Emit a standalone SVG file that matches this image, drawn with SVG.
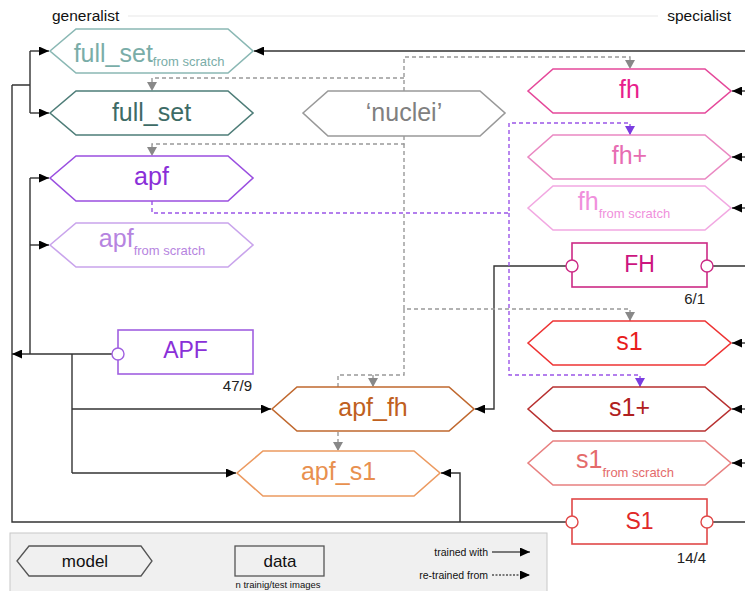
<svg xmlns="http://www.w3.org/2000/svg" width="745" height="591" viewBox="0 0 745 591">
  <defs>
    <marker id="arr" markerUnits="userSpaceOnUse" markerWidth="11" markerHeight="9" refX="10" refY="4.5" orient="auto">
      <path d="M0,0 L10,4.5 L0,9 z" fill="#000" stroke="none"/>
    </marker>
    <marker id="arrGray" markerUnits="userSpaceOnUse" markerWidth="11" markerHeight="11" refX="9" refY="5" orient="auto">
      <path d="M0,0 L9,5 L0,10 z" fill="#888" stroke="none"/>
    </marker>
    <marker id="arrPurple" markerUnits="userSpaceOnUse" markerWidth="11" markerHeight="11" refX="9" refY="5" orient="auto">
      <path d="M0,0 L9,5 L0,10 z" fill="#7a3de0" stroke="none"/>
    </marker>
  </defs>
  <style>
    text { font-family: "Liberation Sans", Arial, sans-serif; }
    .solid { fill: none; stroke: #333; stroke-width: 1.4; }
    .arrow { marker-end: url(#arr); }
    .dgray { fill: none; stroke: #999; stroke-width: 1.4; stroke-dasharray: 4 3; }
    .dpurple { fill: none; stroke: #9b55e8; stroke-width: 1.4; stroke-dasharray: 4 3; }
    .hex { fill: #fff; stroke-width: 1.6; }
    .box { fill: #fff; stroke-width: 1.6; }
    .port { fill: #fff; stroke-width: 1.4; }
    .lbl { font-size: 25px; text-anchor: middle; }
    .rlbl { font-size: 23px; text-anchor: middle; }
    .sub { font-size: 13px; }
    .cnt { font-size: 15px; text-anchor: end; fill: #222; }
    .axis { font-size: 15.5px; fill: #111; }
    .leg { font-size: 17px; text-anchor: middle; fill: #111; }
    .legs { font-size: 10.5px; text-anchor: end; fill: #111; }
  </style>

  <!-- generalist / specialist axis -->
  <g id="axis">
    <line x1="128" y1="16" x2="658" y2="16" stroke="#e8e8e8" stroke-width="1.2"/>
    <text class="axis" x="52" y="21">generalist</text>
    <text class="axis" x="731" y="21" text-anchor="end">specialist</text>
  </g>

  <!-- connectors -->
  <g id="connectors">
    <!-- trained with (solid) -->
    <path class="solid arrow" d="M745,51 H254"/>
    <path class="solid" d="M30,51 V113 M12,85 H30"/>
    <path class="solid arrow" d="M30,51 H49"/>
    <path class="solid arrow" d="M30,113 H49"/>
    <path class="solid" d="M566,522 H12 V85"/>
    <path class="solid arrow" d="M460,522 V473 H441"/>
    <path class="solid arrow" d="M112,354 H12"/>
    <path class="solid" d="M30,354 V178"/>
    <path class="solid arrow" d="M30,178 H49"/>
    <path class="solid arrow" d="M30,245 H49"/>
    <path class="solid" d="M72,354 V473"/>
    <path class="solid arrow" d="M72,409 H271"/>
    <path class="solid arrow" d="M72,473 H236"/>
    <path class="solid arrow" d="M566,266 H494 V409 H475"/>
    <path class="solid" d="M713,266 H745 M713,522 H745"/>
    <path class="solid arrow" d="M745,91 H732"/>
    <path class="solid arrow" d="M745,157 H732"/>
    <path class="solid arrow" d="M745,208 H732"/>
    <path class="solid arrow" d="M745,343 H732"/>
    <path class="solid arrow" d="M745,409 H732"/>
    <path class="solid arrow" d="M745,463 H732"/>

    <!-- re-trained from (dashed) -->
    <path class="dgray" marker-end="url(#arrGray)" d="M404,91 V57 H630 V69"/>
    <path class="dgray" marker-end="url(#arrGray)" d="M404,78 H152 V91"/>
    <path class="dgray" marker-end="url(#arrGray)" d="M404,136 V144 H152 V156"/>
    <path class="dgray" marker-end="url(#arrGray)" d="M404,144 V309 H630 V321"/>
    <path class="dgray" d="M404,309 V375 H338 V387"/>
    <path class="dgray" marker-end="url(#arrGray)" d="M373,375 V387"/>
    <path class="dgray" marker-end="url(#arrGray)" d="M338,432 V451"/>
    <path class="dpurple" marker-end="url(#arrPurple)" d="M152,201 V213 H509 V123 H630 V135"/>
    <path class="dpurple" marker-end="url(#arrPurple)" d="M509,213 V375 H640 V387"/>
  </g>

  <!-- generalist models -->
  <g id="full_set_from_scratch">
    <polygon class="hex" stroke="#8ab8b4" points="50,51 76,29 228,29 253,51 228,73 76,73"/>
    <text class="lbl" x="149" y="62" fill="#7aada8">full_set<tspan class="sub" dy="4">from scratch</tspan></text>
  </g>
  <g id="full_set">
    <polygon class="hex" stroke="#4e7d78" points="50,113 76,91 228,91 253,113 228,135 76,135"/>
    <text class="lbl" x="151.5" y="121" fill="#3d6b66">full_set</text>
  </g>
  <g id="apf">
    <polygon class="hex" stroke="#9a4fe0" points="50,178 76,156 228,156 253,178 228,201 76,201"/>
    <text class="lbl" x="151.5" y="185" fill="#8a2fd8">apf</text>
  </g>
  <g id="apf_from_scratch">
    <polygon class="hex" stroke="#c9a4ec" points="50,245 76,223 228,223 253,245 228,267 76,267"/>
    <text class="lbl" x="152" y="247" fill="#b684e0">apf<tspan class="sub" dy="8">from scratch</tspan></text>
  </g>
  <g id="nuclei">
    <polygon class="hex" stroke="#999" points="303,113 328,91 480,91 505,113 480,136 328,136"/>
    <text class="lbl" x="404" y="121" fill="#808080">‘nuclei’</text>
  </g>

  <!-- specialist models -->
  <g id="fh">
    <polygon class="hex" stroke="#e5489a" points="528,91 553,69 705,69 731,91 705,113 553,113"/>
    <text class="lbl" x="629.5" y="98" fill="#e8208c">fh</text>
  </g>
  <g id="fh_plus">
    <polygon class="hex" stroke="#ea88c2" points="528,157 553,135 705,135 731,157 705,179 553,179"/>
    <text class="lbl" x="629.5" y="164" fill="#e76db2">fh+</text>
  </g>
  <g id="fh_from_scratch">
    <polygon class="hex" stroke="#f2a8e2" points="528,208 553,186 705,186 731,208 705,230 553,230"/>
    <text class="lbl" x="624" y="210" fill="#f090dc">fh<tspan class="sub" dy="8">from scratch</tspan></text>
  </g>
  <g id="s1">
    <polygon class="hex" stroke="#ee3333" points="528,343 553,321 705,321 731,343 705,365 553,365"/>
    <text class="lbl" x="629.5" y="350" fill="#e81c1c">s1</text>
  </g>
  <g id="s1_plus">
    <polygon class="hex" stroke="#b83030" points="528,409 553,387 705,387 731,409 705,431 553,431"/>
    <text class="lbl" x="629.5" y="416" fill="#b02020">s1+</text>
  </g>
  <g id="s1_from_scratch">
    <polygon class="hex" stroke="#e88080" points="528,463 553,441 705,441 731,463 705,485 553,485"/>
    <text class="lbl" x="625" y="468" fill="#e46b6b">s1<tspan class="sub" dy="9">from scratch</tspan></text>
  </g>

  <!-- combined models -->
  <g id="apf_fh">
    <polygon class="hex" stroke="#c0682e" points="272,409 297,387 449,387 474,409 449,431 297,431"/>
    <text class="lbl" x="373" y="416" fill="#c06020">apf_fh</text>
  </g>
  <g id="apf_s1">
    <polygon class="hex" stroke="#ec9a60" points="237,473 263,451 414,451 440,473 414,496 263,496"/>
    <text class="lbl" x="338.5" y="480" fill="#e8904f">apf_s1</text>
  </g>

  <!-- datasets -->
  <g id="APF">
    <rect class="box" stroke="#a060e0" x="118" y="330" width="135" height="44"/>
    <circle class="port" stroke="#a060e0" cx="118" cy="354" r="6"/>
    <text class="rlbl" x="185.5" y="358" fill="#8a30d8">APF</text>
    <text class="cnt" x="252" y="391">47/9</text>
  </g>
  <g id="FH">
    <rect class="box" stroke="#cc2a85" x="572" y="243" width="135" height="44"/>
    <circle class="port" stroke="#cc2a85" cx="572" cy="266" r="6"/>
    <circle class="port" stroke="#cc2a85" cx="707" cy="266" r="6"/>
    <text class="rlbl" x="639.5" y="272" fill="#cc157f">FH</text>
    <text class="cnt" x="705" y="304">6/1</text>
  </g>
  <g id="S1">
    <rect class="box" stroke="#e04848" x="572" y="499" width="135" height="45"/>
    <circle class="port" stroke="#e04848" cx="572" cy="522" r="6"/>
    <circle class="port" stroke="#e04848" cx="707" cy="522" r="6"/>
    <text class="rlbl" x="639.5" y="529" fill="#e02828">S1</text>
    <text class="cnt" x="706" y="563">14/4</text>
  </g>

  <!-- legend -->
  <g id="legend">
    <rect x="10" y="533" width="537" height="62" fill="#f0f0f0" stroke="#c8c8c8"/>
    <polygon points="17,561 29,546 141,546 152,561 141,576 29,576" fill="#f0f0f0" stroke="#555" stroke-width="1.3"/>
    <text class="leg" x="85" y="567">model</text>
    <rect x="235" y="546" width="89" height="30" fill="#f0f0f0" stroke="#555" stroke-width="1.3"/>
    <text class="leg" x="280" y="567">data</text>
    <text x="278" y="588" font-size="9.5" text-anchor="middle" fill="#111">n trainig/test images</text>
    <text class="legs" x="488" y="556">trained with</text>
    <path d="M492,552 H530" stroke="#000" stroke-width="1.2" marker-end="url(#arr)"/>
    <text class="legs" x="488" y="579">re-trained from</text>
    <path d="M492,575 H530" stroke="#000" stroke-width="1.2" stroke-dasharray="2 1.5" marker-end="url(#arr)"/>
  </g>
</svg>
